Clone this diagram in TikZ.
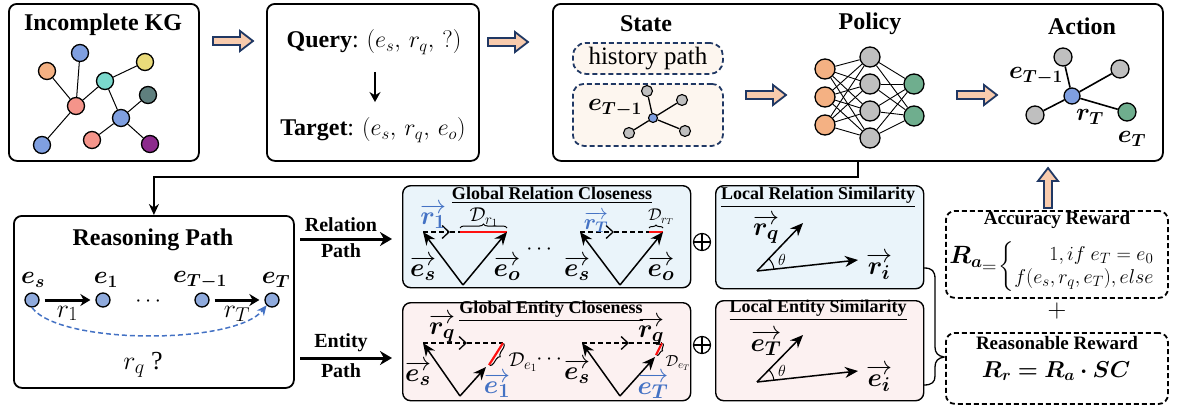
\RequirePackage{fix-cm}
\documentclass[tikz,border=0pt]{standalone}
\usepackage{amsmath}
\usepackage{bm}
\usepackage{fontspec}
\setmainfont{Liberation Serif}
\usetikzlibrary{arrows.meta,decorations.pathreplacing,calc}
\DeclareMathSizes{26}{26}{20}{15}
\DeclareMathSizes{20}{20}{15}{11}
\definecolor{navy}{HTML}{203864}
\definecolor{peach}{HTML}{F8CBAD}
\definecolor{kgorange}{HTML}{F4B183}
\definecolor{kgblue}{HTML}{7F9FE0}
\definecolor{kgsalmon}{HTML}{F4948A}
\definecolor{kgteal}{HTML}{7AD8CC}
\definecolor{kgyellow}{HTML}{EADB7A}
\definecolor{kgslate}{HTML}{5F7F7E}
\definecolor{kgpurple}{HTML}{8C2A8C}
\definecolor{ngray}{HTML}{BFBFBF}
\definecolor{ngreen}{HTML}{6FAE8E}
\definecolor{pblue}{HTML}{8FAADC}
\definecolor{lblue}{HTML}{4472C4}
\definecolor{relfill}{HTML}{EAF4FA}
\definecolor{entfill}{HTML}{FCF1F1}
\definecolor{statefill}{HTML}{FDF6EF}
\definecolor{redline}{HTML}{FF1010}
\newcommand{\myfs}[1]{\fontsize{#1}{#1}\selectfont}
\newcommand{\vb}[1]{\overrightarrow{\bm{#1}}}
\tikzset{
  mybox/.style={draw, line width=1.8pt, rounded corners=8pt, inner sep=0pt, anchor=north west},
  dbox/.style={draw, dash pattern=on 5pt off 3pt, line width=1.8pt, rounded corners=9pt, inner sep=0pt, anchor=north west},
  sdbox/.style={draw=navy, fill=statefill, dash pattern=on 5pt off 3pt, line width=1.8pt, rounded corners=13pt, inner sep=0pt, anchor=north west},
  kgn/.style={circle, draw, line width=1.3pt, minimum size=17pt, inner sep=0pt},
  kge/.style={line width=1pt},
  pn/.style={circle, draw, line width=1.3pt, minimum size=20pt, inner sep=0pt},
  an/.style={circle, draw, line width=1.3pt, minimum size=18pt, inner sep=0pt},
  sn/.style={circle, draw, line width=1.1pt, minimum size=11pt, inner sep=0pt, fill=ngray},
  rpn/.style={circle, draw, line width=1.3pt, minimum size=14pt, inner sep=0pt, fill=pblue},
  nedge/.style={line width=0.9pt},
  title/.style={font=\myfs{24}\bfseries},
  stitle/.style={font=\myfs{18}\bfseries, inner sep=1pt},
  vlab/.style={font=\myfs{26}, inner sep=1pt},
  dlab/.style={font=\myfs{20}, inner sep=1pt},
  blab/.style={font=\myfs{25}},
  varrow/.style={line width=1.5pt, -{Stealth[length=13pt,width=11pt]}},
  dline/.style={dash pattern=on 5pt off 3pt, line width=1.3pt},
  chev/.style={dash pattern=on 5pt off 3pt, line width=1.3pt, -{Straight Barb[length=7pt,width=13pt]}},
  redseg/.style={draw=redline, line width=2.2pt},
  thickarrow/.style={line width=3pt, -{Stealth[length=12pt,width=14pt]}},
  hollowarrow/.pic={\draw[line width=1.8pt, draw=navy, fill=peach, line join=miter]
     (0,-4)--(27,-4)--(27,-10)--(40,0)--(27,10)--(27,4)--(0,4)--cycle;}
}
\begin{document}
\begin{tikzpicture}[x=1pt,y=-1pt]
\useasboundingbox (0,0) rectangle (1178,407);

% ---------------- Box 1: Incomplete KG
\node[mybox, minimum width=190pt, minimum height=157pt] (kg) at (8,3) {};
\node[title] (kgt) at (103,25) {Incomplete KG};
\node[kgn, fill=kgorange] (ko) at (47,71) {};
\node[kgn, fill=kgblue] (kb1) at (80,53) {};
\node[kgn, fill=kgsalmon] (kc) at (76,106) {};
\node[kgn, fill=kgteal] (kt) at (105,81) {};
\node[kgn, fill=kgyellow] (ky) at (145,62) {};
\node[kgn, fill=kgslate] (ks) at (148,95) {};
\node[kgn, fill=kgblue] (kb2) at (121,118) {};
\node[kgn, fill=kgsalmon] (kp2) at (92,140) {};
\node[kgn, fill=kgblue] (kb3) at (42,145) {};
\node[kgn, fill=kgpurple] (kpu) at (150,144) {};
\draw[kge] (ko)--(kc) (kb1)--(kc) (kc)--(kt) (kt)--(ky) (kt)--(kb2) (kb2)--(ks) (kb2)--(kp2) (kb2)--(kpu) (kc)--(kb3);

\pic (ha1) at (213,41) {hollowarrow};

% ---------------- Box 2: Query
\node[mybox, minimum width=212pt, minimum height=157pt] (qb) at (266,3) {};
\node[font=\myfs{24}] (qry) at (374,42) {\textbf{Query}: $(e_s,\, r_q,\, ?)$};
\node[font=\myfs{24}] (tgt) at (373,130) {\textbf{Target}: $(e_s,\, r_q,\, e_o)$};
\draw[line width=2pt, -{Stealth[length=10pt,width=11pt]}] ($(qry.south)+(1,14)$) -- ($(tgt.north)+(2,-12)$);

\pic (ha2) at (488,42) {hollowarrow};

% ---------------- Box 3: State / Policy / Action
\node[mybox, minimum width=610pt, minimum height=157pt] (sb) at (552,3) {};
\node[title] (stt) at (646,24) {State};
\node[sdbox, minimum width=150pt, minimum height=31pt] (hp) at (572,42) {};
\node[font=\myfs{25}] (hpt) at (hp.center) {history path};
\node[sdbox, minimum width=150pt, minimum height=62pt, rounded corners=11pt] (sg) at (572,83) {};
\node[blab] (steT) at (615,108) {$\bm{e_{T-1}}$};
\node[sn] (sg1) at (647,91) {};
\node[sn] (sg2) at (682,100) {};
\node[sn] (sg3) at (629,133) {};
\node[sn] (sg4) at (685,131) {};
\node[circle, draw, line width=1.1pt, minimum size=9pt, inner sep=0pt, fill=kgblue] (sgc) at (653,118) {};
\draw[line width=1.3pt] (sgc)--(sg1) (sgc)--(sg2) (sgc)--(sg3) (sgc)--(sg4);

\pic (ha3) at (746,95) {hollowarrow};

\node[title] (pol) at (870,24) {Policy};
\foreach \i/\y in {1/69,2/97,3/125} \node[pn, fill=kgorange] (in\i) at (825,\y) {};
\foreach \i/\y in {1/57,2/84,3/111,4/138} \node[pn, fill=ngray] (hd\i) at (870,\y) {};
\foreach \i/\y in {1/84,2/116} \node[pn, fill=ngreen] (out\i) at (914,\y) {};
\foreach \i in {1,2,3} \foreach \j in {1,2,3,4} \draw[nedge] (in\i) -- (hd\j);
\foreach \j in {1,2,3,4} \foreach \k in {1,2} \draw[nedge] (hd\j) -- (out\k);

\pic (ha4) at (957,95) {hollowarrow};

\node[title] (act) at (1082,26) {Action};
\node[an, fill=ngray] (ag1) at (1063,57) {};
\node[an, fill=ngray] (ag2) at (1120,69) {};
\node[an, fill=ngray] (ag3) at (1035,115) {};
\node[an, fill=ngreen] (ag4) at (1127,112) {};
\node[circle, draw, line width=1.3pt, minimum size=16pt, inner sep=0pt, fill=kgblue] (agc) at (1072,96) {};
\draw[line width=1.6pt] (agc)--(ag1) (agc)--(ag2) (agc)--(ag3) (agc)--(ag4);
\node[blab] (aeT1) at (1036,76) {$\bm{e_{T-1}}$};
\node[blab] (arT) at (1090,117) {$\bm{r_T}$};
\node[blab] (aeT) at (1132,139) {$\bm{e_T}$};

% ---------------- Box 4: Reasoning path
\node[mybox, minimum width=280pt, minimum height=172pt] (rp) at (13,215) {};
\node[title] (rpt) at (153,240) {Reasoning Path};
\draw[line width=1.5pt, -{Stealth[length=11pt,width=10pt]}] (sb.south) -- ++(0,15) -| (rp.north);
\node[rpn] (rs) at (32,300) {};
\node[rpn] (r1) at (103,300) {};
\node[rpn] (rT1) at (202,300) {};
\node[rpn] (rT) at (272,300) {};
\node[blab] (lrs) at (33,280) {$\bm{e_s}$};
\node[blab] (lr1) at (106,280) {$\bm{e_1}$};
\node[blab] (lrT1) at (200,280) {$\bm{e_{T-1}}$};
\node[blab] (lrT) at (276,280) {$\bm{e_T}$};
\node[font=\myfs{22}] (rdots) at (150,302) {$\cdots$};
\draw[line width=3pt, -{Stealth[length=10pt,width=12pt]}, shorten <=5pt, shorten >=5pt] (rs) -- (r1) node[midway, below=1pt, font=\myfs{26}] {$r_1$};
\draw[line width=3pt, -{Stealth[length=10pt,width=12pt]}, shorten <=5pt, shorten >=5pt] (rT1) -- (rT) node[midway, below=1pt, font=\myfs{26}] {$r_T$};
\draw[draw=lblue, dash pattern=on 5pt off 3pt, line width=1.5pt, -{Stealth[length=10pt,width=9pt]}] (rs.south) .. controls (60,345) and (235,345) .. (rT.south west);
\node[font=\myfs{26}] (rq) at (143,365) {$r_q$ ?};

% ---------------- Relation / Entity path arrows
\node[font=\myfs{20}\bfseries] (relt) at (341,225) {Relation};
\node[font=\myfs{20}\bfseries] (relp) at (341,251) {Path};
\coordinate (ra0) at (300,239);
\coordinate (ra1) at (392,239);
\draw[thickarrow] (ra0) -- (ra1);
\node[font=\myfs{20}\bfseries] (entt) at (341,343) {Entity};
\node[font=\myfs{20}\bfseries] (entp) at (341,371) {Path};
\coordinate (ea0) at (300,358);
\coordinate (ea1) at (392,358);
\draw[thickarrow] (ea0) -- (ea1);

% ---------------- Global Relation Closeness
\node[mybox, line width=1.4pt, fill=relfill, minimum width=288pt, minimum height=102pt] (grc) at (402,185) {};
\node[stitle] (grct) at (552,195) {\underline{Global Relation Closeness}};
% left diagram
\coordinate (ga1) at (463,285); \coordinate (gl1) at (423,232); \coordinate (gr1) at (507,232);
\draw[chev] (gl1) -- (450,232);
\draw[dline] (450,232) -- (gr1);
\draw[redseg] (460,232) -- (gr1);
\draw[varrow] (ga1) -- (gl1);
\draw[varrow] (ga1) -- (gr1);
\draw[decorate, decoration={brace, amplitude=4pt}, line width=1pt] (460,228) -- (507,228);
\node[dlab] (dr1) at (484,217) {$\mathcal{D}_{r_1}$};
\node[vlab, text=lblue] (vr1) at (433,216) {$\vb{r_1}$};
\node[vlab] (ves1) at (423,268) {$\vb{e_s}$};
\node[vlab] (veo1) at (507,268) {$\vb{e_o}$};
\node[font=\myfs{22}] (gdots) at (541,250) {$\cdots$};
% right diagram
\coordinate (ga2) at (620,285); \coordinate (gl2) at (580,232); \coordinate (gr2) at (663,232);
\draw[chev] (gl2) -- (614,232);
\draw[dline] (614,232) -- (gr2);
\draw[redseg] (649,232) -- (gr2);
\draw[varrow] (ga2) -- (gl2);
\draw[varrow] (ga2) -- (gr2);
\draw[decorate, decoration={brace, amplitude=3pt}, line width=1pt] (649,228) -- (663,228);
\node[font=\myfs{17}, inner sep=1pt] (drT) at (661,217) {$\mathcal{D}_{r_T}$};
\node[font=\myfs{22}, inner sep=0pt, text=lblue] (vrT) at (596,222) {$\vb{r_T}$};
\node[vlab] (ves2) at (577,268) {$\vb{e_s}$};
\node[vlab] (veo2) at (661,268) {$\vb{e_o}$};

% ---------------- Global Entity Closeness
\node[mybox, line width=1.4pt, fill=entfill, minimum width=288pt, minimum height=98pt] (gec) at (402,302) {};
\node[stitle] (gect) at (551,311) {\underline{Global Entity Closeness}};
% left diagram
\coordinate (ea) at (460,396); \coordinate (el) at (423,343); \coordinate (et) at (486,367); \coordinate (ed) at (503,343);
\draw[chev] (el) -- (467,343);
\draw[dline] (467,343) -- (ed);
\draw[redseg] (ed) -- (489,365);
\draw[varrow] (ea) -- (el);
\draw[varrow] (ea) -- (et);
\draw[decorate, decoration={brace, amplitude=4pt, raise=1pt}, line width=1pt] (ed) -- (489,365);
\node[vlab] (vrq1) at (442,328) {$\vb{r_q}$};
\node[dlab] (de1) at (523,362) {$\mathcal{D}_{e_1}$};
\node[font=\myfs{22}] (edots) at (551,360) {$\cdots$};
\node[vlab] (ves3) at (418,373) {$\vb{e_s}$};
\node[vlab, text=lblue] (ve1) at (497,385) {$\vb{e_1}$};
% right diagram
\coordinate (ea2) at (620,396); \coordinate (el2) at (582,343); \coordinate (et2) at (655,357); \coordinate (ed2) at (662,343);
\draw[chev] (el2) -- (629,343);
\draw[dline] (629,343) -- (ed2);
\draw[redseg] (ed2) -- (656,355);
\draw[varrow] (ea2) -- (el2);
\draw[varrow] (ea2) -- (et2);
\draw[decorate, decoration={brace, amplitude=3pt, raise=1pt}, line width=1pt] (ed2) -- (656,355);
\node[vlab] (vrq2) at (651,331) {$\vb{r_q}$};
\node[font=\myfs{16}, inner sep=1pt] (deT) at (678,363) {$\mathcal{D}_{e_T}$};
\node[vlab] (ves4) at (577,371) {$\vb{e_s}$};
\node[vlab, text=lblue] (veT) at (653,386) {$\vb{e_T}$};

% ---------------- oplus
\foreach \n/\y in {op1/242, op2/345} {
  \node[circle, draw, line width=1.2pt, minimum size=17pt, inner sep=0pt] (\n) at (702,\y) {};
  \draw[line width=1.2pt] (\n.north) -- (\n.south) (\n.west) -- (\n.east);
}

% ---------------- Local Relation Similarity
\node[mybox, line width=1.4pt, fill=relfill, minimum width=208pt, minimum height=103pt] (lrs) at (715,185) {};
\node[stitle] (lrst) at (818,197) {\underline{Local Relation Similarity}};
\coordinate (lo1) at (757,271);
\draw[varrow] (lo1) -- (803,223);
\draw[varrow] (lo1) -- (858,260);
\draw[line width=1pt] (lo1) ++(-7:17) arc[start angle=-7, end angle=-46, radius=17];
\node[font=\myfs{16}] (th1) at (782,260) {$\theta$};
\node[vlab] (vrq3) at (766,229) {$\vb{r_q}$};
\node[vlab] (vri) at (879,266) {$\vb{r_i}$};

% ---------------- Local Entity Similarity
\node[mybox, line width=1.4pt, fill=entfill, minimum width=208pt, minimum height=100pt] (les) at (715,300) {};
\node[stitle] (lest) at (818,310) {\underline{Local Entity Similarity}};
\coordinate (lo2) at (757,382);
\draw[varrow] (lo2) -- (803,335);
\draw[varrow] (lo2) -- (858,371);
\draw[line width=1pt] (lo2) ++(-7:17) arc[start angle=-7, end angle=-46, radius=17];
\node[font=\myfs{16}] (th2) at (782,371) {$\theta$};
\node[vlab] (veT3) at (766,343) {$\vb{e_T}$};
\node[vlab] (vei) at (879,378) {$\vb{e_i}$};

% ---------------- right brace
\draw[line width=1.3pt] (924,268) .. controls (932,268) and (935,271) .. (935,279) -- (935,347) .. controls (935,353) and (938,356) .. (944,357) .. controls (938,358) and (935,361) .. (935,367) -- (935,376) .. controls (935,382) and (932,385) .. (924,385);

% ---------------- Rewards
\node[dbox, minimum width=222pt, minimum height=87pt] (acc) at (945,210) {};
\node[font=\myfs{19}\bfseries, inner sep=1pt] (acct) at (1057,220) {Accuracy Reward};
\node[font=\myfs{25}] (ra) at (966,257) {$\bm{R_a}$};
\node[font=\myfs{20}, anchor=west, inner sep=0pt] (raf) at (982,267) {$=\!\left\{\renewcommand{\arraystretch}{1.15}\begin{array}{@{}r@{}}1, if\ e_T=e_0\\ f(e_s,r_q,e_T), else\end{array}\right.$};
\node[font=\myfs{26}] (plus) at (1057,311) {$+$};
\node[dbox, minimum width=222pt, minimum height=71pt] (rea) at (945,332) {};
\node[font=\myfs{19}\bfseries] (reat) at (1057,343) {Reasonable Reward};
\node[font=\myfs{23}] (rr) at (1056,371) {$\bm{R_r = R_a\cdot SC}$};
\pic[rotate=90] (ha5) at (1048,208) {hollowarrow};
\end{tikzpicture}
\end{document}
